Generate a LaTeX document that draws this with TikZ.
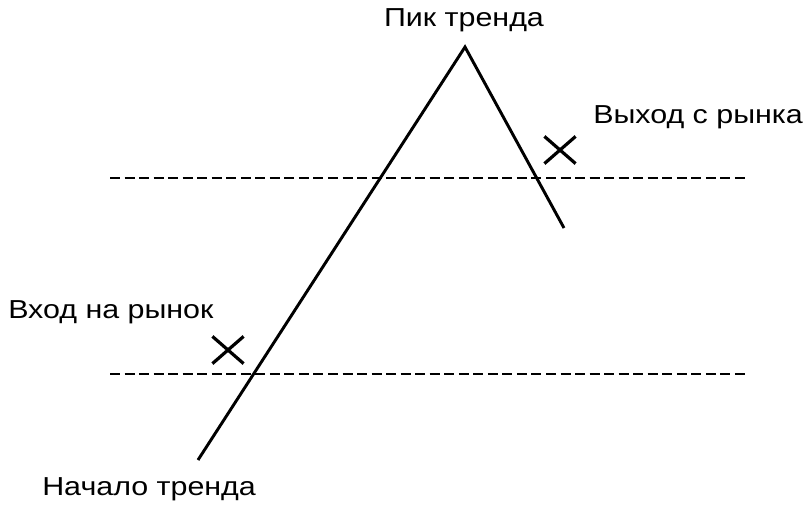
\documentclass[tikz,border=0pt]{standalone}
\usepackage{fontspec}
\setmainfont[FakeStretch=1.17]{Liberation Sans}
\usetikzlibrary{shapes.misc}

\begin{document}
\begin{tikzpicture}[x=0.75pt,y=-0.75pt,
  trend/.style={line width=2.2pt},
  level/.style={line width=1.1pt,dash pattern=on 7.5pt off 3.4pt},
  caption/.style={font=\fontsize{19.5}{22}\selectfont,inner sep=0pt},
  crossmark/.style={cross out,draw,line width=2.4pt,minimum width=21pt,minimum height=18pt,inner sep=0pt}]

  \useasboundingbox (0,0) rectangle (810,510);

  % trend
  \coordinate(start) at (198,460);
  \coordinate(peak)  at (465,47);
  \coordinate(stop)  at (564,228);
  \draw[trend] (start) -- (peak) -- (stop);

  % levels
  \coordinate(exitleft)  at (110,178);
  \coordinate(exitright) at (746,178);
  \coordinate(entryleft)  at (110,374);
  \coordinate(entryright) at (746,374);
  \draw[level] (exitleft) -- (exitright);
  \draw[level] (entryleft) -- (entryright);

  % marks
  \node(exitmark)[crossmark]  at (560,150) {};
  \node(entrymark)[crossmark] at (228,350) {};

  % captions
  \node(peaklabel)[caption,anchor=base]       at (464,27)  {Пик тренда};
  \node(exitlabel)[caption,anchor=base west]  at (593,123) {Выход с рынка};
  \node(entrylabel)[caption,anchor=base west] at (8,318)   {Вход на рынок};
  \node(startlabel)[caption,anchor=base west] at (42,495)  {Начало тренда};
\end{tikzpicture}
\end{document}
